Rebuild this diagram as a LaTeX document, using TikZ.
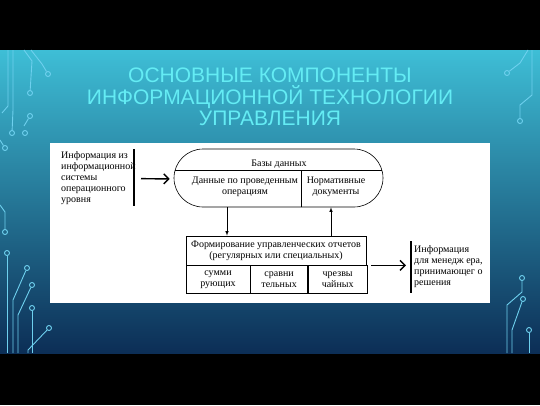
\documentclass[tikz,border=0pt]{standalone}
\usepackage{fontspec}
\setmainfont{Liberation Serif}
\newfontfamily\titlefont{Liberation Sans}
\usetikzlibrary{arrows,arrows.meta,calc,positioning}

\definecolor{slidetop}{RGB}{62,190,214}
\definecolor{slidemid}{RGB}{28,112,152}
\definecolor{slidebot}{RGB}{12,46,86}
\definecolor{titlecyan}{RGB}{100,236,244}
\definecolor{wirecol}{RGB}{110,208,238}

\begin{document}
\begin{tikzpicture}[x=1pt,y=-1pt]
  \tikzset{box/.style={draw, line width=0.6pt, inner sep=0pt, align=center,
      font=\fontsize{10}{11}\selectfont},
    txt/.style={inner sep=0pt, align=left, font=\fontsize{10}{11}\selectfont},
    bar/.style={line width=1.6pt},
    bigarrow/.style={-{Straight Barb[length=5pt,width=10pt]}, line width=1.4pt},
    flow/.style={-latex, line width=0.6pt},
    wire/.style={draw=wirecol, line width=0.9pt},
    pad/.style={circle, draw=wirecol, line width=0.9pt, minimum size=5pt, inner sep=0pt}}
  \useasboundingbox (0,0) rectangle (540,405);
  \fill[black] (0,0) rectangle (540,405);
  \shade[top color=slidetop, middle color=slidemid, bottom color=slidebot] (0,50) rectangle (540,353);

  \node[pad] (L1) at (5,232) {};
  \node[pad] (L2) at (7,253) {};
  \node[pad] (L3) at (27,268) {};
  \node[pad] (L4) at (32,285) {};
  \node[pad] (L5) at (32,308) {};
  \node[pad] (L6) at (49,328) {};
  \node[pad] (L7) at (48,74) {};
  \node[pad] (L8) at (30,93) {};
  \node[pad] (L9) at (30,116) {};
  \node[pad] (L10) at (25,133) {};
  \node[pad] (L11) at (12,133) {};
  \node[pad] (L12) at (5,148) {};
  \draw[wire] (0,205) -- (5,212) -- (L1);
  \draw[wire] (L2) -- (7,353);
  \draw[wire] (L3) -- (13,300) -- (13,353);
  \draw[wire] (L4) -- (18,315) -- (18,353);
  \draw[wire] (L5) -- (32,353);
  \draw[wire] (L6) -- (28,350) -- (28,353);
  \draw[wire] (31,50) -- (42,64) -- (L7);
  \draw[wire] (24,50) -- (32,61) -- (L8);
  \draw[wire] (8,50) -- (8,106) -- (2,113);
  \draw[wire] (13,50) -- (13,110) -- (L11);
  \draw[wire] (0,140) -- (L12);
  \draw[wire] (L9) -- (24,126);

  \node[pad] (R1) at (520,121) {};
  \node[pad] (R2) at (507,73) {};
  \node[pad] (R3) at (522,278) {};
  \node[pad] (R4) at (523,299) {};
  \node[pad] (R5) at (529,330) {};
  \draw[wire] (532,50) -- (532,95) -- (520,105) -- (R1);
  \draw[wire] (528,50) -- (520,63) -- (R2);
  \draw[wire] (R3) -- (522,292) -- (507,305) -- (507,353);
  \draw[wire] (R4) -- (512,330) -- (512,353);
  \draw[wire] (R5) -- (529,353);

  \node[font=\titlefont\fontsize{21}{21.5}\selectfont, text=titlecyan, align=center] (title) at (270,97)
    {ОСНОВНЫЕ КОМПОНЕНТЫ\\ИНФОРМАЦИОННОЙ ТЕХНОЛОГИИ\\УПРАВЛЕНИЯ};

  \node[fill=white, minimum width=440, minimum height=160, inner sep=0pt] (panel) at (270,223) {};

  \node[draw, line width=0.6pt, rounded corners=29pt, minimum width=209, minimum height=58, inner sep=0pt] (db) at (278.5,178) {};
  \node[txt] (dbname) at ($(db.north)+(0.5,15)$) {Базы данных};
  \draw[line width=0.6pt] ($(db.north west)+(1,22)$) -- ($(db.north east)+(-1,22)$);
  \draw[line width=0.6pt] ($(db.south)+(22.5,0)$) -- ($(db.north)+(22.5,22)$);
  \node[box, draw=none] (ops) at ($(db.south)+(-33.5,-21)$) {Данные по проведенным\\операциям};
  \node[box, draw=none] (norm) at ($(db.south)+(57.5,-21)$) {Нормативные\\документы};

  \node[box, minimum width=180, minimum height=29] (rep) at (276,250.5)
    {Формирование управленческих отчетов\\(регулярных или специальных)};
  \node[box, minimum width=64, minimum height=28, anchor=north west] (sum) at (rep.south west) {сумми\\рующих};
  \node[box, minimum width=57, minimum height=28, anchor=north west] (cmp) at (sum.north east) {сравни\\тельных};
  \node[box, minimum width=59, minimum height=28, anchor=north west] (emg) at (cmp.north east) {чрезвы\\чайных};

  \draw[flow] ($(db.south)+(-51.5,0)$) -- ($(rep.north)+(-49,0)$);
  \draw[flow] ($(rep.north)+(55,0)$) -- ($(db.south)+(52.5,0)$);

  \node[txt, anchor=north west] (src) at (61,151) {Информация из\\информационной\\системы\\операционного\\уровня};
  \coordinate (intop) at (134,149);
  \coordinate (inbot) at (134,206);
  \draw[bar] (intop) -- (inbot);
  \draw[bigarrow, shorten >=4pt] ($(intop)!0.52!(inbot)+(7,0)$) -- (db.west |- 0,179);

  \coordinate (outtop) at (411,241);
  \coordinate (outbot) at (411,293);
  \draw[bar] (outtop) -- (outbot);
  \draw[bigarrow, shorten >=5pt] ($(rep.south east)+(5,0)$) -- (rep.south east -| outtop);
  \node[txt, anchor=north west] (dest) at (414,245) {Информация\\для менедж ера,\\принимающег о\\решения};
\end{tikzpicture}
\end{document}
